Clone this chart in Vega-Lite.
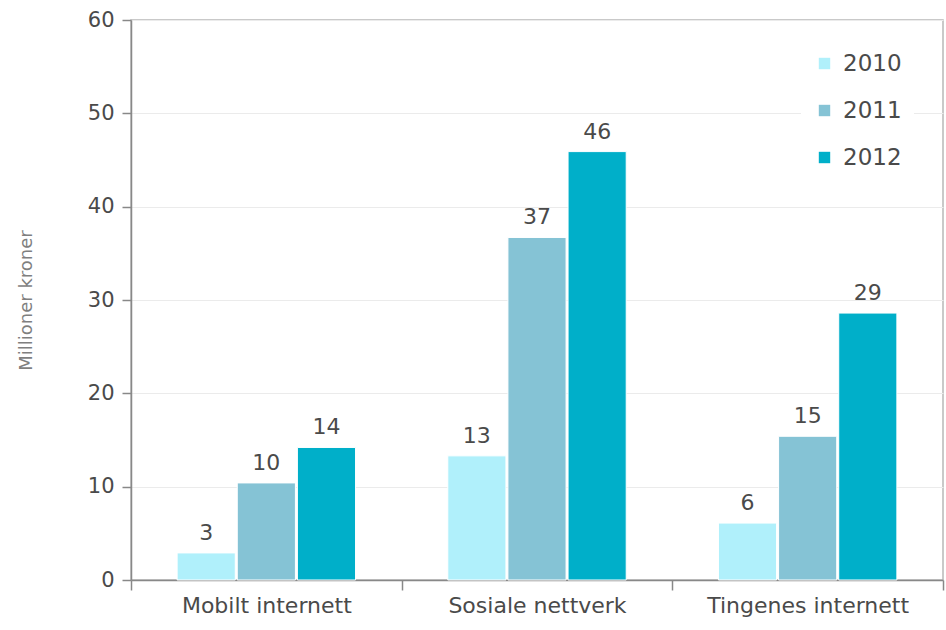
{
  "$schema": "https://vega.github.io/schema/vega-lite/v6.json",
  "width": 812,
  "height": 560,
  "autosize": "none",
  "padding": {"left": 131, "top": 20, "right": 3, "bottom": 50},
  "background": "white",
  "config": {
    "font": "DejaVu Sans",
    "view": {"stroke": "#b8b8b8", "strokeWidth": 1.5}
  },
  "data": {
    "values": [
      {"kategori": "Mobilt internett", "år": "2010", "verdi": 2.9},
      {"kategori": "Mobilt internett", "år": "2011", "verdi": 10.4},
      {"kategori": "Mobilt internett", "år": "2012", "verdi": 14.2},
      {"kategori": "Sosiale nettverk", "år": "2010", "verdi": 13.3},
      {"kategori": "Sosiale nettverk", "år": "2011", "verdi": 36.7},
      {"kategori": "Sosiale nettverk", "år": "2012", "verdi": 45.9},
      {"kategori": "Tingenes internett", "år": "2010", "verdi": 6.1},
      {"kategori": "Tingenes internett", "år": "2011", "verdi": 15.4},
      {"kategori": "Tingenes internett", "år": "2012", "verdi": 28.6}
    ]
  },
  "encoding": {
    "x": {
      "field": "kategori",
      "type": "nominal",
      "sort": null,
      "scale": {"paddingInner": 0, "paddingOuter": 0},
      "axis": {
        "title": null,
        "labelAngle": 0,
        "labelFontSize": 22,
        "labelLimit": 0,
        "labelColor": "#4a4a4a",
        "labelPadding": 5,
        "tickBand": "extent",
        "tickSize": 10,
        "tickColor": "#888888",
        "tickWidth": 1.5,
        "domainColor": "#888888",
        "domainWidth": 1.5
      }
    },
    "xOffset": {
      "field": "år",
      "type": "nominal",
      "scale": {"paddingInner": 0.033, "paddingOuter": 0.767}
    },
    "y": {
      "field": "verdi",
      "type": "quantitative",
      "scale": {"domain": [0, 60]},
      "axis": {
        "title": "Millioner kroner",
        "titleFontSize": 18,
        "titleFontWeight": "normal",
        "titleColor": "#7f7f7f",
        "titlePadding": 52,
        "values": [0, 10, 20, 30, 40, 50, 60],
        "labelFontSize": 21,
        "labelColor": "#4a4a4a",
        "labelPadding": 8,
        "tickSize": 9,
        "tickColor": "#888888",
        "tickWidth": 1.5,
        "domainColor": "#888888",
        "domainWidth": 1.5,
        "gridColor": "#ebebeb",
        "grid": true
      }
    }
  },
  "layer": [
    {
      "mark": {"type": "bar", "stroke": "white", "strokeWidth": 1},
      "encoding": {
        "color": {
          "field": "år",
          "type": "nominal",
          "scale": {"domain": ["2010", "2011", "2012"], "range": ["#b0f0fb", "#85c3d5", "#00afc9"]},
          "legend": {
            "title": null,
            "orient": "none",
            "legendX": 670,
            "legendY": 20,
            "padding": 12,
            "fillColor": "white",
            "strokeColor": null,
            "symbolType": "square",
            "symbolSize": 130,
            "symbolStrokeWidth": 0,
            "labelFontSize": 23,
            "labelColor": "#4a4a4a",
            "labelOffset": 7,
            "rowPadding": 23
          }
        }
      }
    },
    {
      "mark": {"type": "text", "dy": -20, "fontSize": 22, "color": "#4a4a4a"},
      "encoding": {
        "text": {"field": "verdi", "type": "quantitative", "format": ".0f"}
      }
    }
  ]
}
